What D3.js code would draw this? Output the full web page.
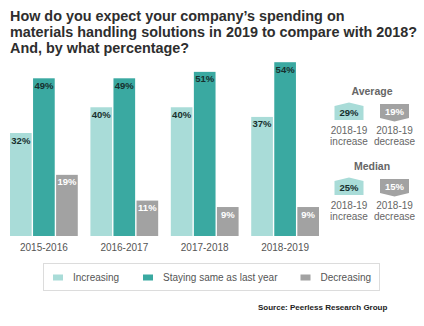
<!DOCTYPE html>
<html>
<head>
<meta charset="utf-8">
<script src="https://cdn.jsdelivr.net/npm/d3@7"></script>
<style>
  body { margin: 0; background: #fff; }
  svg { font-family: "Liberation Sans", Arial, sans-serif; display: block; }
</style>
</head>
<body>
<div id="chart"></div>
<script>
const W = 424, H = 326;

// data
const periods = ["2015-2016", "2016-2017", "2017-2018", "2018-2019"];
const seriesNames = ["Increasing", "Staying same as last year", "Decreasing"];
const increasing = [32, 40, 40, 37];
const staying = [49, 49, 51, 54];
const decreasing = [19, 11, 9, 9];
const colors = ["#a9dcd8", "#3aa9a1", "#a2a2a2"];
const labelColors = ["#17302e", "#17302e", "#ffffff"];

const summaryTitles = ["Average", "Median"];
const summaryIncrease = [29, 25];
const summaryDecrease = [19, 15];

const titleLines = [
  "How do you expect your company\u2019s spending on",
  "materials handling solutions in 2019 to compare with 2018?",
  "And, by what percentage?"
];

const svg = d3.select("#chart").append("svg")
    .attr("width", W)
    .attr("height", H);

svg.append("g")
  .selectAll("text")
  .data(titleLines)
  .join("text")
    .attr("x", 10)
    .attr("y", (d, i) => 21 + i * 16)
    .attr("fill", "#2e2e2e")
    .attr("font-size", "14.4px")
    .attr("font-weight", "bold")
    .text(d => d);

const BASE = 236;
const x0 = d3.scaleBand().domain(periods).range([10, 319]).paddingInner(0.157).paddingOuter(0);
const x1 = d3.scaleBand().domain(d3.range(3)).range([0, x0.bandwidth()]).paddingInner(0.06);
const y = d3.scaleLinear().domain([0, 49]).range([BASE, 78.3]);

const table = periods.map((p, i) => ({
  period: p,
  vals: [increasing[i], staying[i], decreasing[i]]
}));

const groups = svg.append("g")
  .selectAll("g")
  .data(table)
  .join("g")
    .attr("transform", d => `translate(${x0(d.period)},0)`);

const bars = groups.selectAll("g")
  .data(d => d.vals.map((v, k) => ({k, v})))
  .join("g");

bars.append("rect")
    .attr("x", d => x1(d.k))
    .attr("y", d => y(d.v))
    .attr("width", x1.bandwidth())
    .attr("height", d => BASE - y(d.v))
    .attr("fill", d => colors[d.k]);

bars.append("text")
    .attr("x", d => x1(d.k) + x1.bandwidth() / 2)
    .attr("y", d => y(d.v) + 10.5)
    .attr("text-anchor", "middle")
    .attr("font-size", "9.5px")
    .attr("font-weight", "bold")
    .attr("fill", d => labelColors[d.k])
    .text(d => d.v + "%");

// category labels
svg.append("g")
  .selectAll("text")
  .data(periods)
  .join("text")
    .attr("x", d => x0(d) + x0.bandwidth() / 2)
    .attr("y", 250.5)
    .attr("text-anchor", "middle")
    .attr("font-size", "10px")
    .attr("fill", "#555")
    .text(d => d);

// summary panel
const incX = 349, decX = 394.5, sw = 29;
const summary = svg.append("g")
  .selectAll("g")
  .data(summaryTitles)
  .join("g")
    .attr("transform", (d, i) => `translate(0,${i * 75})`);

summary.append("text")
    .attr("x", 372)
    .attr("y", 95)
    .attr("text-anchor", "middle")
    .attr("font-size", "10.5px")
    .attr("font-weight", "bold")
    .attr("fill", "#666")
    .text(d => d);

// up-pointing badge
summary.append("path")
    .attr("d", `M${incX - sw / 2},106 L${incX},102.5 L${incX + sw / 2},106 L${incX + sw / 2},120 L${incX - sw / 2},120 Z`)
    .attr("fill", colors[0]);
// down-pointing badge
summary.append("path")
    .attr("d", `M${decX - sw / 2},104 L${decX + sw / 2},104 L${decX + sw / 2},118 L${decX},121.5 L${decX - sw / 2},118 Z`)
    .attr("fill", colors[2]);

summary.append("text")
    .attr("x", incX)
    .attr("y", 115.5)
    .attr("text-anchor", "middle")
    .attr("font-size", "9.5px")
    .attr("font-weight", "bold")
    .attr("fill", "#17302e")
    .text((d, i) => summaryIncrease[i] + "%");

summary.append("text")
    .attr("x", decX)
    .attr("y", 114.5)
    .attr("text-anchor", "middle")
    .attr("font-size", "9.5px")
    .attr("font-weight", "bold")
    .attr("fill", "#fff")
    .text((d, i) => summaryDecrease[i] + "%");

[["2018-19", "increase", incX], ["2018-19", "decrease", decX]].forEach(([a, b, cx]) => {
  summary.append("text")
      .attr("x", cx).attr("y", 133.5)
      .attr("text-anchor", "middle")
      .attr("font-size", "10px")
      .attr("fill", "#666")
      .text(a);
  summary.append("text")
      .attr("x", cx).attr("y", 144.5)
      .attr("text-anchor", "middle")
      .attr("font-size", "10px")
      .attr("fill", "#666")
      .text(b);
});

// legend
const legend = svg.append("g");
legend.append("rect")
    .attr("x", 43.5).attr("y", 263.5)
    .attr("width", 336).attr("height", 27)
    .attr("fill", "#fff")
    .attr("stroke", "#dcdcdc");

const legendX = [53, 143, 300.5];
const items = legend.selectAll("g.item")
  .data(seriesNames)
  .join("g")
    .attr("class", "item")
    .attr("transform", (d, i) => `translate(${legendX[i]},0)`);
items.append("rect")
    .attr("y", 274.5).attr("width", 10).attr("height", 6)
    .attr("fill", (d, i) => colors[i]);
items.append("text")
    .attr("x", 20).attr("y", 281)
    .attr("font-size", "10px")
    .attr("fill", "#555")
    .text(d => d);

svg.append("text")
    .attr("x", 258)
    .attr("y", 310)
    .attr("font-size", "8px")
    .attr("font-weight", "bold")
    .attr("fill", "#222")
    .text("Source: Peerless Research Group");
</script>
</body>
</html>
